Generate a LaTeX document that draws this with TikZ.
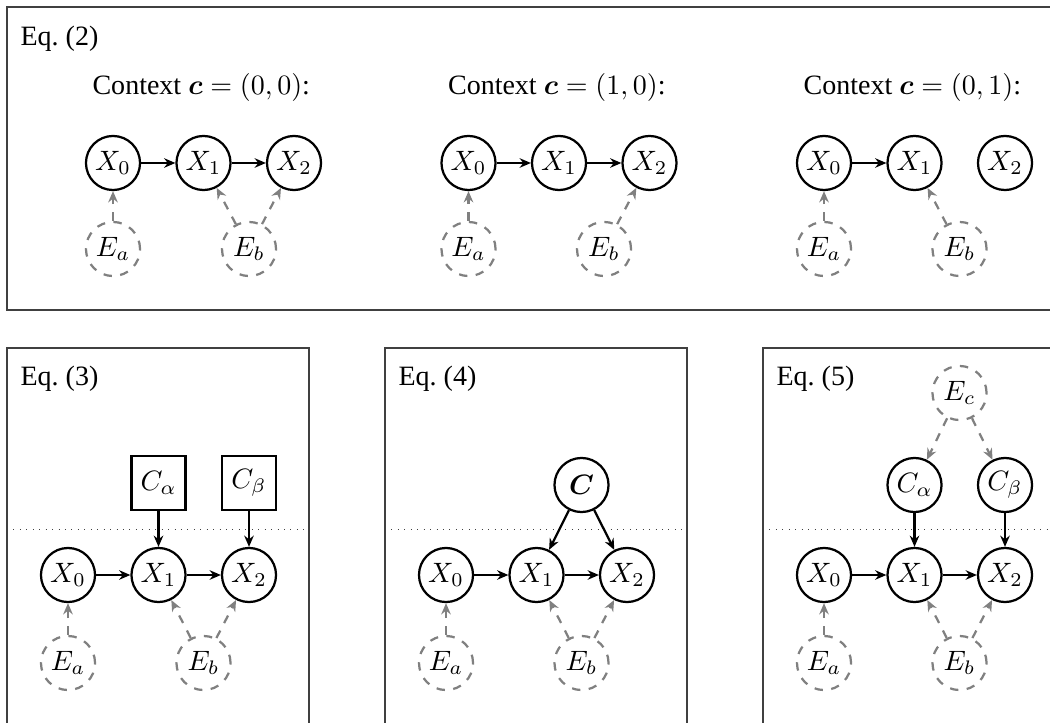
\documentclass[tikz,border=0pt]{standalone}
\usepackage{amsmath}
\usepackage[no-math]{fontspec}
\setmainfont{Liberation Serif}
\usetikzlibrary{arrows.meta}

\begin{document}
\begin{tikzpicture}[x=0.357pt,y=-0.357pt,
        var/.style={circle,draw,thick,inner sep=0pt,minimum size=19.3pt},
        noise/.style={circle,draw=gray,dashed,thick,inner sep=0pt,minimum size=19.3pt},
        ctx/.style={rectangle,draw,thick,inner sep=0pt,minimum size=19.3pt},
        arr/.style={-{Stealth[length=4pt,width=3.4pt]},thick},
        narr/.style={-{Stealth[length=4pt,width=3.4pt]},thick,gray,dashed},
        panel/.style={draw=black!75,line width=0.4pt},
        cut/.style={black!75,dotted,line width=0.3pt},
        lbl/.style={anchor=base west,inner sep=0pt}]
            \useasboundingbox (0,0) rectangle (1050,723);
            \clip (0,0) rectangle (1050,723);
            % Eq. (2): three contexts
            \draw[panel] (7,7) rectangle (1065,310);
            \node(eq2)[lbl] at (20,46){Eq.~(2)};
            \node(ctxa)[lbl] at (92,95){Context $\boldsymbol{c}=(0,0)$:};
            \node(x0a)[var] at (113,163){$X_0$};
            \node(x1a)[var] at (203.5,163){$X_1$};
            \node(x2a)[var] at (294,163){$X_2$};
            \node(eaa)[noise] at (113,249){$E_a$};
            \node(eba)[noise] at (249,249){$E_b$};
            \draw[arr] (x0a) -- (x1a);
            \draw[arr] (x1a) -- (x2a);
            \draw[narr] (eaa) -- (x0a);
            \draw[narr] (eba) -- (x1a);
            \draw[narr] (eba) -- (x2a);
            \node(ctxb)[lbl] at (447.5,95){Context $\boldsymbol{c}=(1,0)$:};
            \node(x0b)[var] at (468.5,163){$X_0$};
            \node(x1b)[var] at (559,163){$X_1$};
            \node(x2b)[var] at (649.5,163){$X_2$};
            \node(eab)[noise] at (468.5,249){$E_a$};
            \node(ebb)[noise] at (604,249){$E_b$};
            \draw[arr] (x0b) -- (x1b);
            \draw[arr] (x1b) -- (x2b);
            \draw[narr] (eab) -- (x0b);
            \draw[narr] (ebb) -- (x2b);
            \node(ctxc)[lbl] at (803,95){Context $\boldsymbol{c}=(0,1)$:};
            \node(x0c)[var] at (824,163){$X_0$};
            \node(x1c)[var] at (914.5,163){$X_1$};
            \node(x2c)[var] at (1005,163){$X_2$};
            \node(eac)[noise] at (824,249){$E_a$};
            \node(ebc)[noise] at (959.5,249){$E_b$};
            \draw[arr] (x0c) -- (x1c);
            \draw[narr] (eac) -- (x0c);
            \draw[narr] (ebc) -- (x1c);
            % Eq. (3)
            \draw[panel] (7,348) rectangle (309,760);
            \draw[cut] (7,529) -- (309,529);
            \node(eq3)[lbl] at (20,385){Eq.~(3)};
            \node(x0d)[var] at (68,575){$X_0$};
            \node(x1d)[var] at (158.5,575){$X_1$};
            \node(x2d)[var] at (249,575){$X_2$};
            \node(cad)[ctx] at (158.5,483){$C_\alpha$};
            \node(cbd)[ctx] at (249,483){$C_\beta$};
            \node(ead)[noise] at (68,663){$E_a$};
            \node(ebd)[noise] at (203.5,663){$E_b$};
            \draw[arr] (x0d) -- (x1d);
            \draw[arr] (x1d) -- (x2d);
            \draw[arr] (cad) -- (x1d);
            \draw[arr] (cbd) -- (x2d);
            \draw[narr] (ead) -- (x0d);
            \draw[narr] (ebd) -- (x1d);
            \draw[narr] (ebd) -- (x2d);
            % Eq. (4)
            \draw[panel] (385,348) rectangle (687,760);
            \draw[cut] (385,529) -- (687,529);
            \node(eq4)[lbl] at (398,385){Eq.~(4)};
            \node(x0e)[var] at (446,575){$X_0$};
            \node(x1e)[var] at (536.5,575){$X_1$};
            \node(x2e)[var] at (627,575){$X_2$};
            \node(ce)[var] at (581.5,485){$\boldsymbol{C}$};
            \node(eae)[noise] at (446,663){$E_a$};
            \node(ebe)[noise] at (581.5,663){$E_b$};
            \draw[arr] (x0e) -- (x1e);
            \draw[arr] (x1e) -- (x2e);
            \draw[arr] (ce) -- (x1e);
            \draw[arr] (ce) -- (x2e);
            \draw[narr] (eae) -- (x0e);
            \draw[narr] (ebe) -- (x1e);
            \draw[narr] (ebe) -- (x2e);
            % Eq. (5)
            \draw[panel] (763,348) rectangle (1065,760);
            \draw[cut] (763,529) -- (1065,529);
            \node(eq5)[lbl] at (776,385){Eq.~(5)};
            \node(x0f)[var] at (824,575){$X_0$};
            \node(x1f)[var] at (914.5,575){$X_1$};
            \node(x2f)[var] at (1005,575){$X_2$};
            \node(caf)[var] at (914.5,485){$C_\alpha$};
            \node(cbf)[var] at (1005,485){$C_\beta$};
            \node(ecf)[noise] at (959.5,393){$E_c$};
            \node(eaf)[noise] at (824,663){$E_a$};
            \node(ebf)[noise] at (959.5,663){$E_b$};
            \draw[arr] (x0f) -- (x1f);
            \draw[arr] (x1f) -- (x2f);
            \draw[arr] (caf) -- (x1f);
            \draw[arr] (cbf) -- (x2f);
            \draw[narr] (ecf) -- (caf);
            \draw[narr] (ecf) -- (cbf);
            \draw[narr] (eaf) -- (x0f);
            \draw[narr] (ebf) -- (x1f);
            \draw[narr] (ebf) -- (x2f);
        \end{tikzpicture}
\end{document}
